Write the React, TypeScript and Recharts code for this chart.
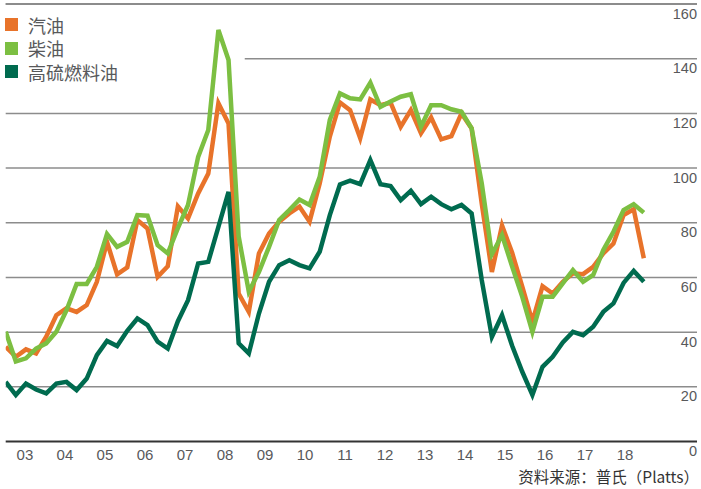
import { CartesianGrid, Line, LineChart, ReferenceLine, XAxis, YAxis } from "recharts";

const YEARS = ["03", "04", "05", "06", "07", "08", "09", "10", "11", "12", "13", "14", "15", "16", "17", "18"];
const Y_TICKS = [0, 20, 40, 60, 80, 100, 120, 140, 160];

// quarterly averages, USD/barrel, 2003Q1 .. 2018Q4
const gasoline = [
  34.6, 31, 33.7, 32.2, 38.3, 46.2, 48.7, 47.4, 49.9, 58.4, 73, 61.1, 63.7, 81, 77.9, 60.2,
  64.1, 86, 81.6, 90.7, 98, 123.7, 116.3, 54.1, 47.4, 68.8, 76.1, 80.4, 83.4, 85.9, 80.4, 94.4,
  111.5, 124, 121.2, 110.9, 125.1, 123, 123.9, 115.1, 121.2, 112.7, 118.5, 110.5, 111.7, 120, 114.5, 87,
  62, 79, 69, 56.6, 43.8, 56.8, 54.1, 58.4, 61.5, 61.2, 63.9, 68.8, 72.4, 82.8, 84.9, 67,
];
const diesel = [
  40.1, 29.3, 30.4, 34, 35.9, 40.1, 48, 57.6, 57.6, 63.9, 75.9, 71.2, 73, 82.8, 82.6, 71.8,
  68.8, 78, 86.5, 104.1, 113.9, 150.5, 139.5, 75, 54.8, 62, 71.2, 81, 84.6, 88.5, 86.5, 96.8,
  117.6, 127.3, 125.5, 125.1, 131.2, 122.4, 124.3, 126.1, 127, 115.1, 123, 123, 121.5, 120.6, 114.5, 94.4,
  68.5, 75.5, 64, 52.9, 40.1, 52.9, 52.9, 57.8, 62.7, 58.4, 60.9, 70, 76.7, 84.6, 86.8, 83.7,
];
const fuelOil = [
  21.8, 17, 21.2, 19, 17.6, 21.2, 21.8, 18.8, 23, 31.6, 36.8, 34.9, 40.5, 45, 42.6, 36.5,
  34, 44, 51.7, 65.1, 65.7, 78.5, 91.3, 35.9, 32.2, 46.8, 58.4, 64.5, 66.3, 64.5, 63.3, 69.4,
  82.8, 94, 95.4, 94.1, 102.9, 94.1, 93.4, 88.3, 91.7, 86.8, 89.5, 86.8, 84.9, 86.5, 83.4, 59,
  38.3, 46.2, 35, 25.5, 17, 27.3, 31, 36.2, 40.1, 38.9, 42, 47.4, 50.5, 58, 62.4, 58.4,
];

const data = gasoline.map((g, i) => ({ idx: i, gasoline: g, diesel: diesel[i], fuelOil: fuelOil[i] }));

const W = 701;
const H = 489;
const MARGIN = { top: 4, right: 3, bottom: 17.5, left: 5.7 };
const TEXT = "#58595b";
const FONT = "'Liberation Sans', Arial, 'Noto Sans CJK SC', sans-serif";
const GRID = "#8c8c8c";

// year labels sit at the centre of each year (in quarter-index units)
const yearTick = (k: number) => 1.9 + 3.95 * k;
const X_TICKS = YEARS.map((_, k) => yearTick(k));

const legendItems = [
  { label: "汽油", color: "#E8732A" },
  { label: "柴油", color: "#7CBF42" },
  { label: "高硫燃料油", color: "#006B4F" },
];

const YTick = ({ y, payload }: any) => (
  <text x={697} y={y + 14.5} textAnchor="end" fontSize={14.5} fill={TEXT} fontFamily={FONT}>
    {payload.value}
  </text>
);

const XTick = ({ x, payload }: any) => (
  <text x={x} y={460} textAnchor="middle" fontSize={15} fill={TEXT} fontFamily={FONT}>
    {YEARS[Math.round((payload.value - 1.9) / 3.95)]}
  </text>
);

export default function App() {
  return (
    <div style={{ position: "absolute", left: 0, top: 0, width: W, height: H, background: "#fff", fontFamily: FONT }}>
      <LineChart width={W} height={H} data={data} margin={MARGIN}>
        <CartesianGrid vertical={false} horizontalValues={[20, 40, 60, 80, 100, 120, 160]} stroke={GRID} strokeWidth={1.5} />
        <ReferenceLine segment={[{ x: 23.6, y: 140 }, { x: 68.25, y: 140 }]} stroke={GRID} strokeWidth={1.5} />
        <ReferenceLine y={160} stroke={GRID} strokeWidth={2} ifOverflow="visible" />
        <XAxis
          type="number"
          dataKey="idx"
          domain={[0, 68.25]}
          ticks={X_TICKS}
          tick={<XTick />}
          tickLine={false}
          axisLine={{ stroke: "#333", strokeWidth: 2 }}
          interval={0}
          allowDataOverflow
        />
        <YAxis
          orientation="right"
          domain={[0, 160]}
          ticks={Y_TICKS}
          width={1}
          tick={<YTick />}
          tickLine={false}
          axisLine={false}
          interval={0}
        />
        <Line type="linear" dataKey="gasoline" stroke="#E8732A" strokeWidth={4.5} dot={false} isAnimationActive={false} />
        <Line type="linear" dataKey="diesel" stroke="#7CBF42" strokeWidth={4.5} dot={false} isAnimationActive={false} />
        <Line type="linear" dataKey="fuelOil" stroke="#006B4F" strokeWidth={4.5} dot={false} isAnimationActive={false} />
      </LineChart>

      {legendItems.map((item, k) => (
        <div
          key={item.label}
          style={{ position: "absolute", left: 5, top: 12 + 23.5 * k, height: 25, display: "flex", alignItems: "center" }}
        >
          <span style={{ display: "inline-block", width: 13, height: 13, background: item.color }} />
          <span style={{ marginLeft: 10, fontSize: 18, color: TEXT, fontFamily: "'Noto Sans CJK SC', sans-serif" }}>
            {item.label}
          </span>
        </div>
      ))}

      <div
        style={{
          position: "absolute",
          right: 2,
          top: 467,
          fontSize: 15.5,
          lineHeight: "18px",
          color: "#333",
          fontFamily: "'Noto Sans CJK SC', sans-serif",
          whiteSpace: "nowrap",
        }}
      >
        资料来源：普氏（Platts）
      </div>
    </div>
  );
}
